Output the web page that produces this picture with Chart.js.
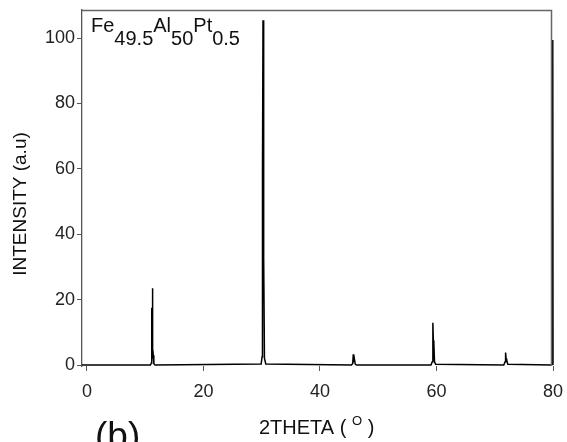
<!DOCTYPE html>
<html>
<head>
<meta charset="utf-8">
<script src="https://cdn.jsdelivr.net/npm/chart.js@4.4.1/dist/chart.umd.min.js"></script>
<style>
  html, body { margin: 0; padding: 0; background: #fff; }
  #wrap { width: 567px; height: 442px; }
</style>
</head>
<body>
<div id="wrap"><canvas id="xrd" width="567" height="442"></canvas></div>
<script>
// diffraction pattern, Fe49.5Al50Pt0.5
const twoTheta = [
  -0.85, 10.9, 11.05, 11.12, 11.17, 11.24, 11.3, 11.38, 11.48, 11.7,
  29.9, 30.06, 30.13, 30.22, 30.3, 30.37, 30.47, 30.7,
  45.4, 45.62, 45.72, 45.8, 45.9, 46.05, 46.3,
  59.05, 59.28, 59.38, 59.46, 59.55, 59.66, 59.85,
  71.55, 71.78, 71.86, 71.95, 72.05, 72.25,
  79.75, 79.9, 79.94, 79.98, 80
];
const intensity = [
  0, 0, 0.6, 17.5, 17, 23.5, 2, 3, 0.4, 0,
  0.3, 2.5, 58, 105.5, 38, 33, 2, 0.3,
  0, 0.5, 3.3, 1.5, 2, 0.3, 0,
  0, 1, 12.9, 7.5, 6.5, 1, 0.2,
  0, 1, 3.8, 2, 1.5, 0.2,
  0, 0.5, 99.4, 99.4, 0
];
const xTicks = [0, 20, 40, 60, 80];
const yTicks = [0, 20, 40, 60, 80, 100];

const FONT = 'Liberation Sans, Arial, sans-serif';

const points = twoTheta.map((t, i) => ({ x: t, y: intensity[i] }));

// frame, formula, axis titles and panel letter
const decorations = {
  id: 'decorations',
  afterDraw(chart) {
    const ctx = chart.ctx;
    const a = chart.chartArea;
    ctx.save();

    ctx.strokeStyle = '#666';
    ctx.lineWidth = 1.5;
    ctx.beginPath();
    ctx.moveTo(a.left, a.top + 0.5);
    ctx.lineTo(a.right - 1.5, a.top + 0.5);
    ctx.lineTo(a.right - 1.5, a.bottom);
    ctx.stroke();

    ctx.fillStyle = '#111';
    ctx.textBaseline = 'alphabetic';
    ctx.textAlign = 'left';
    ctx.font = '20px ' + FONT;
    let x = 91;
    [['Fe', 0], ['49.5', 1], ['Al', 0], ['50', 1], ['Pt', 0], ['0.5', 1]].forEach(([s, sub]) => {
      ctx.fillText(s, x, sub ? 45 : 32);
      x += ctx.measureText(s).width;
    });

    // x title with raised degree mark
    x = 259;
    ctx.font = '20px ' + FONT;
    ctx.fillText('2THETA ( ', x, 434);
    x += ctx.measureText('2THETA ( ').width;
    ctx.font = '13px ' + FONT;
    ctx.fillText('O', x, 425);
    x += ctx.measureText('O').width;
    ctx.font = '20px ' + FONT;
    ctx.fillText(' )', x, 434);

    ctx.save();
    ctx.translate(21, 204);
    ctx.rotate(-Math.PI / 2);
    ctx.textAlign = 'center';
    ctx.textBaseline = 'middle';
    ctx.font = '19px ' + FONT;
    ctx.fillText('INTENSITY (a.u)', 0, 0);
    ctx.restore();

    ctx.font = '37px ' + FONT;
    ctx.fillText('(b)', 95, 448);

    ctx.restore();
  }
};

new Chart(document.getElementById('xrd'), {
  type: 'line',
  data: {
    datasets: [{
      data: points,
      borderColor: '#000',
      borderWidth: 1.5,
      pointRadius: 0,
      tension: 0,
      clip: 3
    }]
  },
  options: {
    responsive: false,
    animation: false,
    devicePixelRatio: 1,
    layout: { padding: { top: 10, right: 14, left: 0, bottom: 0 } },
    plugins: { legend: { display: false }, tooltip: { enabled: false } },
    scales: {
      x: {
        type: 'linear',
        min: -0.85,
        max: 80,
        afterBuildTicks: s => { s.ticks = xTicks.map(v => ({ value: v })); },
        afterFit: s => { s.height = 76; s.paddingLeft = 0; s.paddingRight = 0; },
        border: { display: false },
        grid: { drawOnChartArea: false, drawTicks: true, tickLength: 5, color: '#555' },
        ticks: { color: '#222', font: { family: FONT, size: 18 }, padding: 10, maxRotation: 0 }
      },
      y: {
        min: -0.3,
        max: 108.6,
        afterBuildTicks: s => { s.ticks = yTicks.map(v => ({ value: v })); },
        afterFit: s => { s.width = 82; s.paddingTop = 0; s.paddingBottom = 0; },
        border: { display: true, color: '#555', width: 1.3 },
        grid: { drawOnChartArea: false, drawTicks: true, tickLength: 5, color: '#555' },
        ticks: { color: '#222', font: { family: FONT, size: 18 }, padding: 2 }
      }
    }
  },
  plugins: [decorations]
});
</script>
</body>
</html>
